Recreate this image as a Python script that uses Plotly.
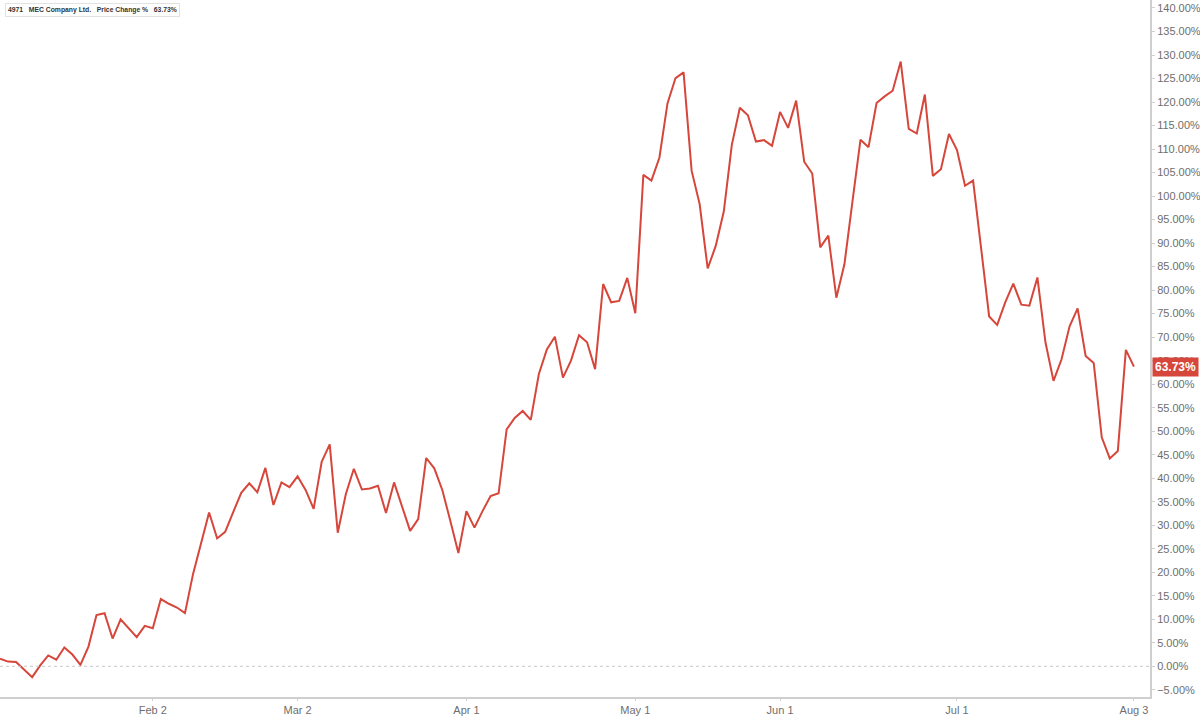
import pandas as pd
import plotly.graph_objects as go

# Tokyo trading days, Jan 5 - Aug 3 2026
holidays = ["2026-01-12", "2026-02-11", "2026-02-23", "2026-03-20",
            "2026-04-29", "2026-05-04", "2026-05-05", "2026-05-06", "2026-07-20"]
days = pd.bdate_range("2026-01-05", "2026-08-03")
days = days[~days.isin(pd.to_datetime(holidays))]
dates = [d.strftime("%Y-%m-%d") for d in days]

# price change % vs start
change_pct = [
    1.6, 1.0, 0.9, -0.7, -2.3, 0.2, 2.3, 1.4, 4.0, 2.5,
    0.3, 4.2, 10.9, 11.3, 5.9, 10.0, 8.1, 6.2, 8.6, 8.1,
    14.3, 13.3, 12.5, 11.3, 19.6, 26.2, 32.7, 27.2, 28.6, 32.8,
    36.9, 38.9, 37.0, 42.2, 34.3, 39.1, 38.1, 40.4, 37.5, 33.5,
    43.5, 47.2, 28.4, 36.6, 42.0, 37.6, 37.8, 38.4, 32.6, 39.1,
    34.1, 28.8, 31.3, 44.3, 42.1, 37.5, 30.9, 24.1, 33.0, 29.5,
    33.0, 36.2, 36.8, 50.4, 52.8, 54.3, 52.4, 62.1, 67.4, 70.1,
    61.4, 65.0, 70.4, 68.9, 63.2, 81.3, 77.4, 77.7, 82.6, 75.1,
    104.5, 103.3, 108.2, 119.7, 125.1, 126.3, 105.4, 98.3, 84.6, 89.4,
    96.7, 110.9, 118.8, 117.2, 111.6, 111.9, 110.7, 117.9, 114.5, 120.3,
    107.3, 104.8, 89.1, 91.6, 78.4, 85.5, 98.8, 112.0, 110.4, 119.8,
    121.2, 122.4, 128.6, 114.3, 113.3, 121.6, 104.3, 105.7, 113.2, 109.8,
    102.2, 103.3, 88.9, 74.4, 72.6, 77.4, 81.4, 76.9, 76.7, 82.7,
    68.9, 60.7, 65.3, 72.3, 76.1, 66.0, 64.5, 48.7, 44.2, 45.8,
    67.3, 63.73,
]

tick_dates = ["2026-02-02", "2026-03-02", "2026-04-01", "2026-05-01",
              "2026-06-01", "2026-07-01", "2026-08-03"]
tick_labels = ["Feb 2", "Mar 2", "Apr 1", "May 1", "Jun 1", "Jul 1", "Aug 3"]

ticker = "4971"
company = "MEC Company Ltd."
last_value = change_pct[-1]

red = "#d6463b"
grey_text = "#6e6e6e"
font_family = "Liberation Sans, Arial, sans-serif"

fig = go.Figure()

fig.add_trace(go.Scatter(
    x=dates,
    y=change_pct,
    mode="lines",
    line=dict(color=red, width=2),
    hoverinfo="skip",
    showlegend=False
))

# dotted zero line
fig.add_hline(y=0, line=dict(color="#c8c8c8", width=1, dash="dot"))

# last value tag on the right axis
fig.add_annotation(
    x=1, xref="paper", y=last_value, yref="y",
    xanchor="left", yanchor="middle", xshift=2,
    text=f"<b>{last_value:.2f}%</b>",
    showarrow=False,
    bgcolor=red, borderpad=2,
    font=dict(color="white", size=12, family=font_family)
)

# legend box top-left
fig.add_annotation(
    x=0.0045, xref="paper", y=0.996, yref="paper",
    xanchor="left", yanchor="top",
    text=f"<b>{ticker}</b>   <b>{company}</b>   <b>Price Change %</b>   <b>{last_value:.2f}%</b>",
    showarrow=False,
    bgcolor="white", bordercolor="#e2e2e2", borderwidth=1, borderpad=2,
    font=dict(color="#333333", size=6.8, family=font_family)
)
fig.add_shape(
    type="rect", xref="paper", yref="paper",
    x0=0.0045, x1=0.0064, y0=0.976, y1=0.994,
    fillcolor=red, line=dict(width=0)
)

fig.update_layout(
    width=1200,
    height=717,
    margin=dict(l=0, r=50, t=0, b=20),
    paper_bgcolor="white",
    plot_bgcolor="white",
    font=dict(family=font_family, color=grey_text, size=11),
    xaxis=dict(
        type="category",
        range=[0, 143.0],
        tickmode="array",
        tickvals=tick_dates,
        ticktext=tick_labels,
        automargin=False,
        showgrid=False,
        showline=True,
        linecolor="#cfcfcf",
        linewidth=2,
        ticks="outside",
        ticklen=2,
        tickcolor="#cfcfcf",
        tickfont=dict(size=11, color=grey_text),
        zeroline=False
    ),
    yaxis=dict(
        side="right",
        range=[-6.53, 141.7],
        tick0=0,
        dtick=5,
        tickformat=".2f",
        ticksuffix="%",
        automargin=False,
        showgrid=False,
        showline=True,
        linecolor="#cfcfcf",
        linewidth=2,
        ticks="outside",
        ticklen=3,
        tickcolor="#cfcfcf",
        tickfont=dict(size=11, color=grey_text),
        zeroline=False
    )
)

# page body has a default 8px margin; drop it so the chart sits at 0,0
fig.write_html("out.html", config={"displayModeBar": False},
               post_script="document.body.style.margin='0';")
